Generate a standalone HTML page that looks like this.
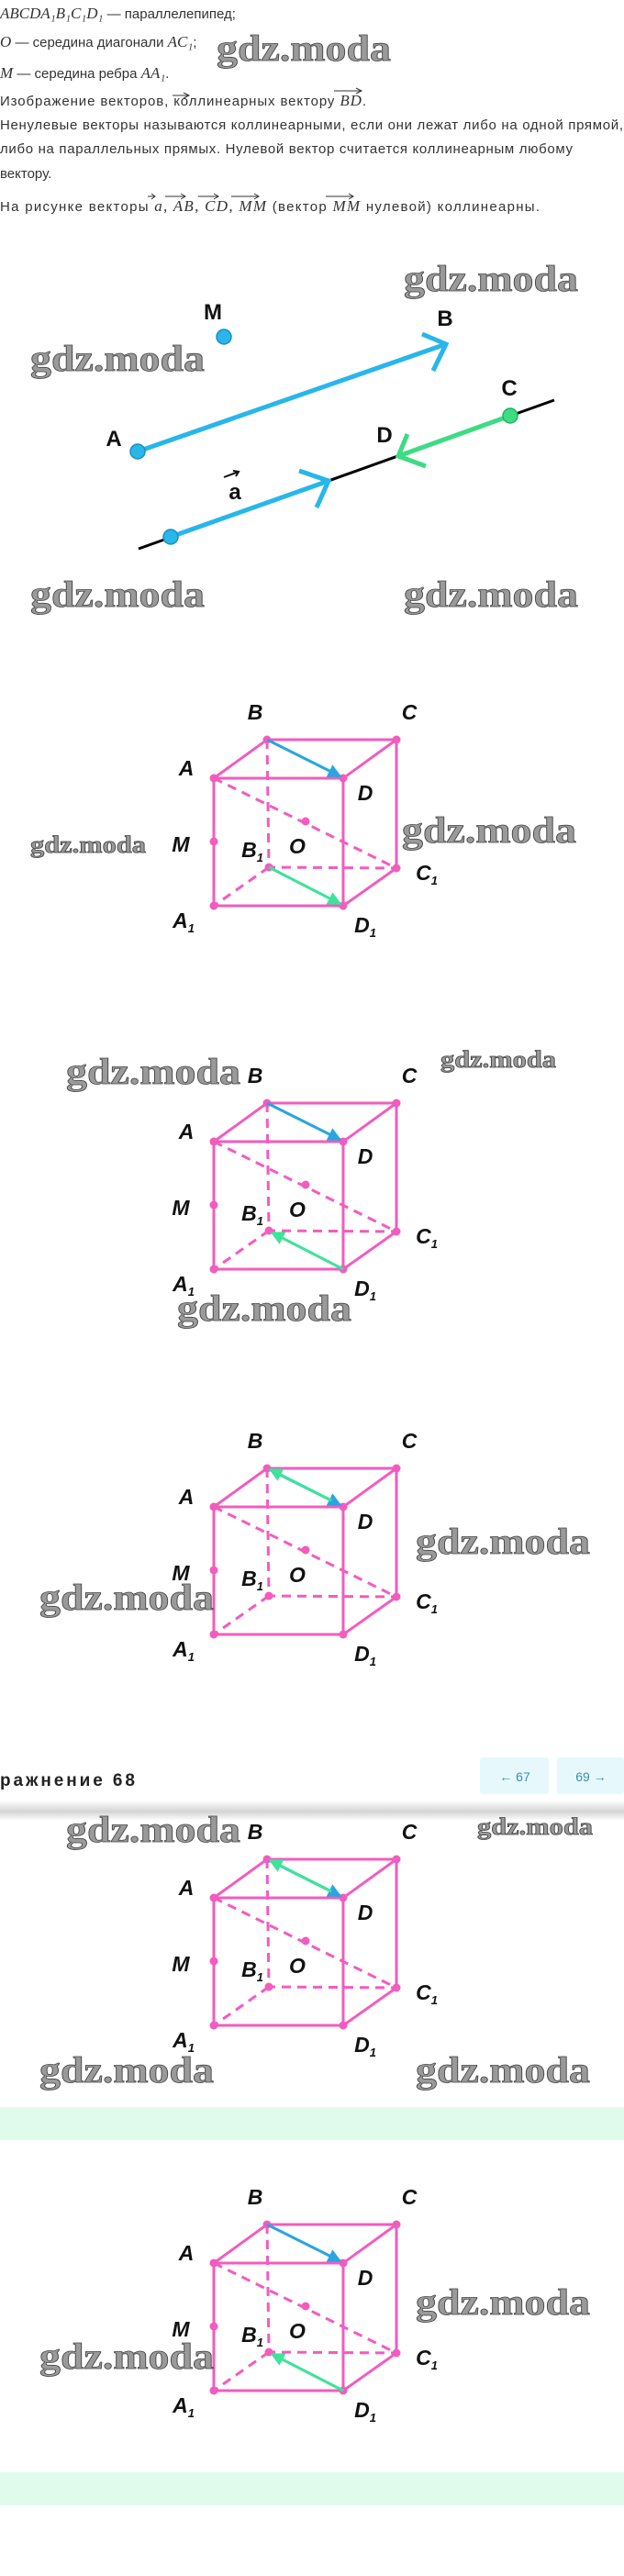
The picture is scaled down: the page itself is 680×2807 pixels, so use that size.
<!DOCTYPE html>
<html><head><meta charset="utf-8"><style>html,body{margin:0;padding:0;background:#fff}svg{display:block}</style></head>
<body>
<svg width="680" height="2807" viewBox="0 0 680 2807" xmlns="http://www.w3.org/2000/svg">
<defs>
<marker id="mb" viewBox="0 0 10 10" refX="9" refY="5" markerWidth="5" markerHeight="5" orient="auto-start-reverse"><path d="M0,0 L10,5 L0,10 z" fill="#2aa5e0"/></marker>
<marker id="mg" viewBox="0 0 10 10" refX="9" refY="5" markerWidth="5" markerHeight="5" orient="auto-start-reverse"><path d="M0,0 L10,5 L0,10 z" fill="#3ee39a"/></marker>
<linearGradient id="sh1" x1="0" y1="0" x2="0" y2="1"><stop offset="0" stop-color="#fff"/><stop offset="1" stop-color="#d4d4d4"/></linearGradient>
<linearGradient id="sh2" x1="0" y1="0" x2="0" y2="1"><stop offset="0" stop-color="#d4d4d4"/><stop offset="1" stop-color="#fff"/></linearGradient>
<g id="cube" stroke="#f25cbe" fill="none" stroke-width="3">
<path d="M-58,42 L0,0 L141,0 L83,42 Z M-58,42 L-58,181 L83,181 L83,42 M83,181 L141,140 L141,0"/>
<path d="M0,0 L2,139 L141,140 M2,139 L-58,181 M-58,42 L141,140" stroke-dasharray="10,7"/>
<g fill="#f25cbe" stroke="none">
<circle cx="-58" cy="42" r="4.5"/><circle cx="0" cy="0" r="4.5"/><circle cx="141" cy="0" r="4.5"/><circle cx="83" cy="42" r="4.5"/>
<circle cx="-58" cy="181" r="4.5"/><circle cx="83" cy="181" r="4.5"/><circle cx="2" cy="139" r="4.5"/><circle cx="141" cy="140" r="4.5"/>
<circle cx="-58" cy="111" r="4.5"/><circle cx="42" cy="89" r="4.5"/>
</g>
</g>
</defs>

<g font-family="Liberation Sans, sans-serif" font-size="15" fill="#333">
<text x="0" y="20"><tspan font-family="Liberation Serif, serif" font-style="italic" font-size="17">ABCDA₁B₁C₁D₁</tspan> — параллелепипед;</text>
<text x="0" y="51"><tspan font-family="Liberation Serif, serif" font-style="italic" font-size="17">O</tspan> — середина диагонали <tspan font-family="Liberation Serif, serif" font-style="italic" font-size="17">AC₁</tspan>;</text>
<text x="0" y="85"><tspan font-family="Liberation Serif, serif" font-style="italic" font-size="17">M</tspan> — середина ребра <tspan font-family="Liberation Serif, serif" font-style="italic" font-size="17">AA₁</tspan>.</text>
<text x="0" y="115" textLength="399">Изображение векторов, коллинеарных вектору <tspan font-family="Liberation Serif, serif" font-style="italic" font-size="17">BD</tspan>.</text>
<text x="0" y="141" textLength="679">Ненулевые векторы называются коллинеарными, если они лежат либо на одной прямой,</text>
<text x="0" y="167" textLength="624">либо на параллельных прямых. Нулевой вектор считается коллинеарным любому</text>
<text x="0" y="194">вектору.</text>
<text x="0" y="230" textLength="588">На рисунке векторы <tspan font-family="Liberation Serif, serif" font-style="italic" font-size="17">a, AB, CD, MM</tspan> (вектор <tspan font-family="Liberation Serif, serif" font-style="italic" font-size="17">MM</tspan> нулевой) коллинеарны.</text>
<path d="M188,104 h18 M200,101 l6,3 l-6,3 M364,99 h30 M388,96 l6,3 l-6,3 M161,214 h8 M165,211 l4,3 l-4,3 M180,214 h22 M197,211 l5,3 l-5,3 M216,214 h22 M233,211 l5,3 l-5,3 M252,214 h30 M277,211 l5,3 l-5,3 M355,214 h30 M380,211 l5,3 l-5,3" stroke="#333" stroke-width="1" fill="none"/>
</g>

<!-- first diagram -->
<line x1="604" y1="436" x2="151" y2="598" stroke="#000" stroke-width="3"/>
<line x1="150" y1="492" x2="486" y2="375" stroke="#29b6e8" stroke-width="5"/>
<polyline points="460,364 486,375 472,404" fill="none" stroke="#29b6e8" stroke-width="5"/>
<line x1="186" y1="585" x2="358" y2="524" stroke="#29b6e8" stroke-width="5"/>
<polyline points="326,513 358,524 345,553" fill="none" stroke="#29b6e8" stroke-width="5"/>
<line x1="556" y1="453" x2="434" y2="497" stroke="#3ddc84" stroke-width="5"/>
<polyline points="444,473 434,497 464,508" fill="none" stroke="#3ddc84" stroke-width="5"/>
<circle cx="244" cy="367" r="8" fill="#29b6e8" stroke="#1a8fc0" stroke-width="1.5"/>
<circle cx="150" cy="492" r="8" fill="#29b6e8" stroke="#1a8fc0" stroke-width="1.5"/>
<circle cx="186" cy="585" r="8" fill="#29b6e8" stroke="#1a8fc0" stroke-width="1.5"/>
<circle cx="556" cy="453" r="8" fill="#3ddc84" stroke="#25b062" stroke-width="1.5"/>
<g font-family="Liberation Sans, sans-serif" font-weight="bold" font-size="24" fill="#111" text-anchor="middle">
<text x="232" y="348">M</text><text x="485" y="355">B</text><text x="124" y="486">A</text>
<text x="555" y="431">C</text><text x="419" y="482">D</text><text x="256" y="544">a</text>
</g>
<path d="M244,520 l16,-6 M254,513 l6,1 l-3,5" stroke="#111" stroke-width="2" fill="none"/>

<!-- cubes -->
<g font-family="Liberation Sans, sans-serif" font-weight="bold" font-style="italic" font-size="23" fill="#111" text-anchor="middle">
<g transform="translate(291,806)">
<use href="#cube"/>
<line x1="0" y1="0" x2="80" y2="40" stroke="#2aa5e0" stroke-width="3" marker-end="url(#mb)"/>
<line x1="2" y1="139" x2="80" y2="179" stroke="#3ee39a" stroke-width="3" marker-end="url(#mg)"/>
<text x="-13" y="-22">B</text><text x="155" y="-22">C</text><text x="-88" y="39">A</text><text x="107" y="66">D</text><text x="-94" y="122">M</text><text x="-16" y="128">B<tspan font-size="13" dy="5">1</tspan></text><text x="33" y="124">O</text><text x="174" y="153">C<tspan font-size="13" dy="5">1</tspan></text><text x="-91" y="205">A<tspan font-size="13" dy="5">1</tspan></text><text x="107" y="210">D<tspan font-size="13" dy="5">1</tspan></text>
</g>
<g transform="translate(291,1202)">
<use href="#cube"/>
<line x1="0" y1="0" x2="80" y2="40" stroke="#2aa5e0" stroke-width="3" marker-end="url(#mb)"/>
<line x1="83" y1="181" x2="5" y2="141" stroke="#3ee39a" stroke-width="3" marker-end="url(#mg)"/>
<text x="-13" y="-22">B</text><text x="155" y="-22">C</text><text x="-88" y="39">A</text><text x="107" y="66">D</text><text x="-94" y="122">M</text><text x="-16" y="128">B<tspan font-size="13" dy="5">1</tspan></text><text x="33" y="124">O</text><text x="174" y="153">C<tspan font-size="13" dy="5">1</tspan></text><text x="-91" y="205">A<tspan font-size="13" dy="5">1</tspan></text><text x="107" y="210">D<tspan font-size="13" dy="5">1</tspan></text>
</g>
<g transform="translate(291,1600)">
<use href="#cube"/>
<line x1="2" y1="1" x2="80" y2="40" stroke="#2aa5e0" stroke-width="3" marker-end="url(#mb)"/>
<line x1="70" y1="35" x2="3" y2="1" stroke="#3ee39a" stroke-width="3" marker-end="url(#mg)"/>
<text x="-13" y="-22">B</text><text x="155" y="-22">C</text><text x="-88" y="39">A</text><text x="107" y="66">D</text><text x="-94" y="122">M</text><text x="-16" y="128">B<tspan font-size="13" dy="5">1</tspan></text><text x="33" y="124">O</text><text x="174" y="153">C<tspan font-size="13" dy="5">1</tspan></text><text x="-91" y="205">A<tspan font-size="13" dy="5">1</tspan></text><text x="107" y="210">D<tspan font-size="13" dy="5">1</tspan></text>
</g>
<g transform="translate(291,2026)">
<use href="#cube"/>
<line x1="2" y1="1" x2="80" y2="40" stroke="#2aa5e0" stroke-width="3" marker-end="url(#mb)"/>
<line x1="70" y1="35" x2="3" y2="1" stroke="#3ee39a" stroke-width="3" marker-end="url(#mg)"/>
<text x="-13" y="-22">B</text><text x="155" y="-22">C</text><text x="-88" y="39">A</text><text x="107" y="66">D</text><text x="-94" y="122">M</text><text x="-16" y="128">B<tspan font-size="13" dy="5">1</tspan></text><text x="33" y="124">O</text><text x="174" y="153">C<tspan font-size="13" dy="5">1</tspan></text><text x="-91" y="205">A<tspan font-size="13" dy="5">1</tspan></text><text x="107" y="210">D<tspan font-size="13" dy="5">1</tspan></text>
</g>
<g transform="translate(291,2424)">
<use href="#cube"/>
<line x1="0" y1="0" x2="80" y2="40" stroke="#2aa5e0" stroke-width="3" marker-end="url(#mb)"/>
<line x1="83" y1="181" x2="5" y2="141" stroke="#3ee39a" stroke-width="3" marker-end="url(#mg)"/>
<text x="-13" y="-22">B</text><text x="155" y="-22">C</text><text x="-88" y="39">A</text><text x="107" y="66">D</text><text x="-94" y="122">M</text><text x="-16" y="128">B<tspan font-size="13" dy="5">1</tspan></text><text x="33" y="124">O</text><text x="174" y="153">C<tspan font-size="13" dy="5">1</tspan></text><text x="-91" y="205">A<tspan font-size="13" dy="5">1</tspan></text><text x="107" y="210">D<tspan font-size="13" dy="5">1</tspan></text>
</g>
</g>

<!-- header / nav -->
<text x="0" y="1946" font-family="Liberation Sans, sans-serif" font-size="19" font-weight="bold" fill="#222" textLength="147">ражнение 68</text>
<rect x="523" y="1915" width="75" height="40" rx="3" fill="#e6f8fb"/>
<rect x="607" y="1915" width="73" height="40" rx="3" fill="#e6f8fb"/>
<text x="561" y="1941" font-family="Liberation Sans, sans-serif" font-size="14" fill="#3b8fb0" text-anchor="middle">← 67</text>
<text x="644" y="1941" font-family="Liberation Sans, sans-serif" font-size="14" fill="#3b8fb0" text-anchor="middle">69 →</text>
<rect x="0" y="1962" width="680" height="12" fill="url(#sh1)"/>
<rect x="0" y="1974" width="680" height="10" fill="url(#sh2)"/>

<rect x="0" y="2296" width="680" height="36" fill="#e0fbec"/>
<rect x="0" y="2694" width="680" height="36" fill="#e0fbec"/>

<!-- watermarks -->
<g font-family="Liberation Serif, serif" font-weight="bold" fill="#9a9a9a" stroke="#444" stroke-width="0.8" lengthAdjust="spacingAndGlyphs">
<text x="236" y="66" font-size="40" textLength="190" lengthAdjust="spacingAndGlyphs">gdz.moda</text>
<text x="440" y="317" font-size="40" textLength="190" lengthAdjust="spacingAndGlyphs">gdz.moda</text>
<text x="33" y="404" font-size="40" textLength="190" lengthAdjust="spacingAndGlyphs">gdz.moda</text>
<text x="33" y="661" font-size="40" textLength="190" lengthAdjust="spacingAndGlyphs">gdz.moda</text>
<text x="440" y="661" font-size="40" textLength="190" lengthAdjust="spacingAndGlyphs">gdz.moda</text>
<text x="33" y="929" font-size="26" textLength="126" lengthAdjust="spacingAndGlyphs">gdz.moda</text>
<text x="438" y="918" font-size="40" textLength="190" lengthAdjust="spacingAndGlyphs">gdz.moda</text>
<text x="72" y="1181" font-size="40" textLength="190" lengthAdjust="spacingAndGlyphs">gdz.moda</text>
<text x="480" y="1163" font-size="26" textLength="126" lengthAdjust="spacingAndGlyphs">gdz.moda</text>
<text x="193" y="1439" font-size="40" textLength="190" lengthAdjust="spacingAndGlyphs">gdz.moda</text>
<text x="453" y="1693" font-size="40" textLength="190" lengthAdjust="spacingAndGlyphs">gdz.moda</text>
<text x="43" y="1754" font-size="40" textLength="190" lengthAdjust="spacingAndGlyphs">gdz.moda</text>
<text x="72" y="2007" font-size="40" textLength="190" lengthAdjust="spacingAndGlyphs">gdz.moda</text>
<text x="520" y="1999" font-size="26" textLength="126" lengthAdjust="spacingAndGlyphs">gdz.moda</text>
<text x="43" y="2269" font-size="40" textLength="190" lengthAdjust="spacingAndGlyphs">gdz.moda</text>
<text x="453" y="2269" font-size="40" textLength="190" lengthAdjust="spacingAndGlyphs">gdz.moda</text>
<text x="453" y="2522" font-size="40" textLength="190" lengthAdjust="spacingAndGlyphs">gdz.moda</text>
<text x="43" y="2581" font-size="40" textLength="190" lengthAdjust="spacingAndGlyphs">gdz.moda</text>
</g>
</svg>
</body></html>
